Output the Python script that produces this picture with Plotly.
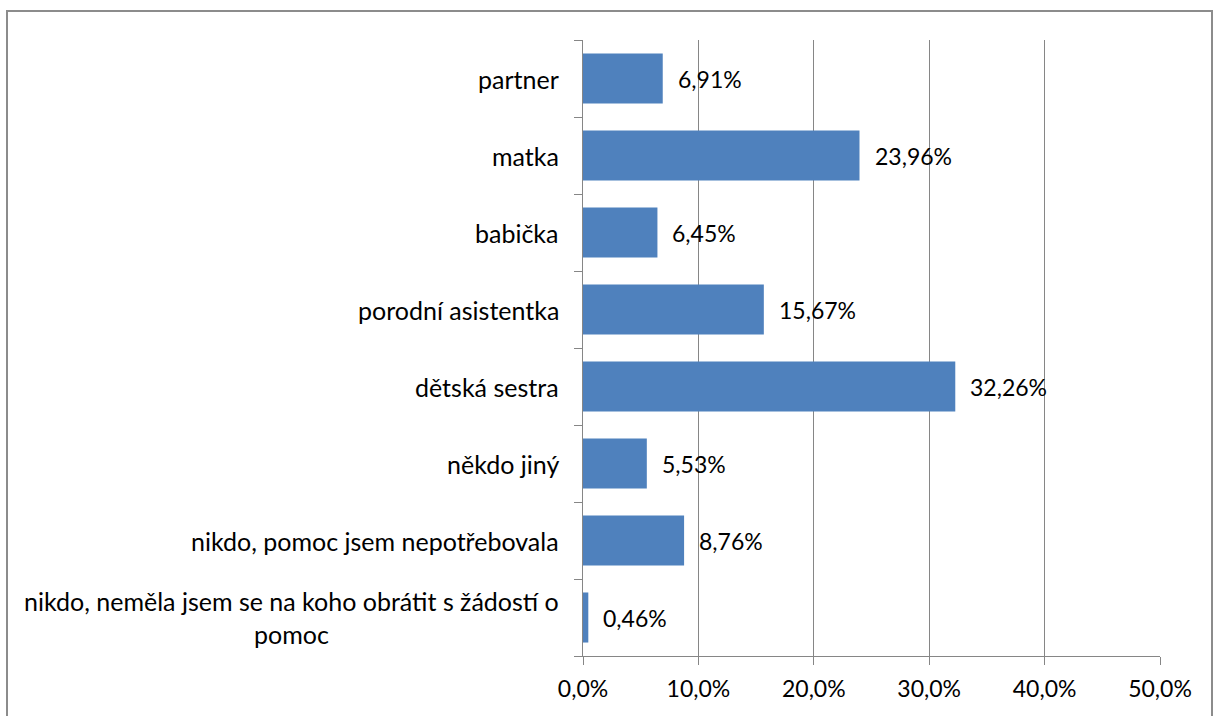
import plotly.graph_objects as go

categories = [
    "partner",
    "matka",
    "babička",
    "porodní asistentka",
    "dětská sestra",
    "někdo jiný",
    "nikdo, pomoc jsem nepotřebovala",
    "nikdo, neměla jsem se na koho obrátit s žádostí o<br>pomoc",
]
values = [6.91, 23.96, 6.45, 15.67, 32.26, 5.53, 8.76, 0.46]
tick_vals = [0, 10, 20, 30, 40, 50]
tick_text = ["0,0%", "10,0%", "20,0%", "30,0%", "40,0%", "50,0%"]

FONT = "Lato"
FS = 23
CAT_FS = 25
BAR = "#4F81BD"
GRID = "#868686"

fig = go.Figure()
fig.add_trace(go.Bar(
    x=values,
    y=list(range(len(categories))),
    orientation="h",
    marker=dict(color=BAR, line=dict(width=0)),
    width=0.65,
    hoverinfo="skip",
))

annotations = []
# value labels to the right of each bar
for i, v in enumerate(values):
    annotations.append(dict(
        x=v, y=i, xref="x", yref="y",
        text=f"{v:.2f}".replace(".", ",") + "%",
        showarrow=False, xanchor="left", yanchor="middle",
        xshift=13, font=dict(family=FONT, size=FS, color="#000000"),
    ))
# category labels, centred text right-aligned against the axis
for i, c in enumerate(categories):
    annotations.append(dict(
        x=0, y=i, xref="paper", yref="y",
        text=c, showarrow=False, xanchor="right", yanchor="middle",
        align="center", xshift=-22,
        font=dict(family=FONT, size=CAT_FS, color="#000000"),
    ))

fig.update_layout(
    width=1214, height=716,
    margin=dict(l=583, r=54, t=40, b=60),
    paper_bgcolor="white", plot_bgcolor="white",
    showlegend=False,
    font=dict(family=FONT, size=FS, color="#000000"),
    annotations=annotations,
    xaxis=dict(
        range=[0, 50], tickvals=tick_vals, ticktext=tick_text,
        showgrid=True, gridcolor=GRID, gridwidth=1.3,
        showline=True, linecolor=GRID, linewidth=1.3,
        ticks="outside", ticklen=8, tickcolor=GRID, tickwidth=1.3,
        ticklabelstandoff=4,
        zeroline=False, tickfont=dict(family=FONT, size=FS, color="#000000"),
        fixedrange=True,
    ),
    yaxis=dict(
        range=[len(categories) - 0.5, -0.5],
        tickvals=[i - 0.5 for i in range(len(categories) + 1)],
        showticklabels=False,
        showgrid=False, zeroline=False,
        showline=True, linecolor=GRID, linewidth=1.3,
        ticks="outside", ticklen=8, tickcolor=GRID, tickwidth=1.3,
        fixedrange=True,
    ),
    shapes=[dict(
        type="rect", xref="paper", yref="paper",
        x0=(7 - 583) / 577, x1=(1212 - 583) / 577,
        y0=-0.2, y1=1 + (40 - 11) / 616,
        line=dict(color="#8C8C8C", width=2), fillcolor="rgba(0,0,0,0)",
        layer="below",
    )],
)

fig.write_html("out.html")
